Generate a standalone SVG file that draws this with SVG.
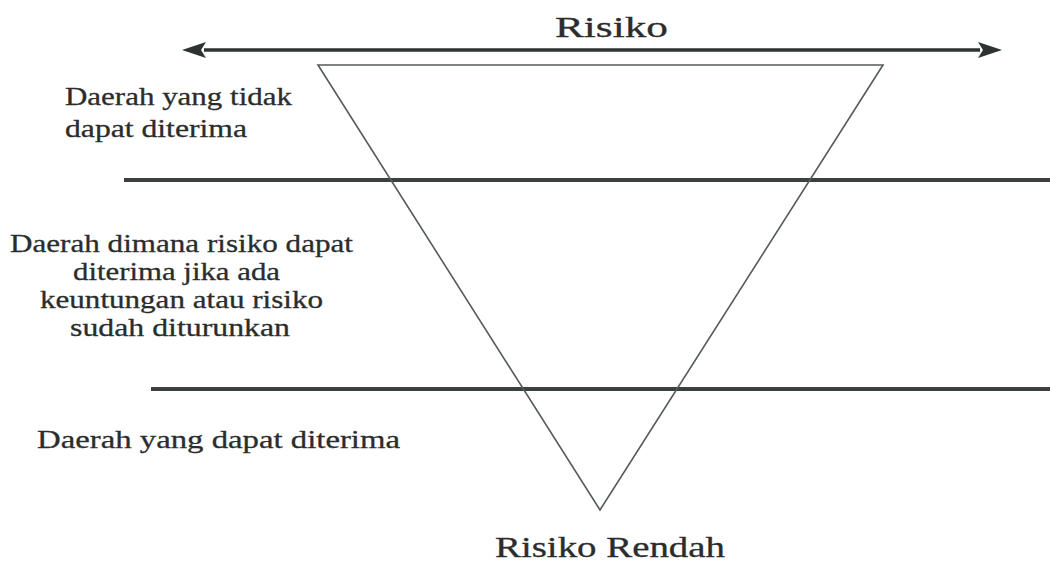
<svg xmlns="http://www.w3.org/2000/svg" width="1050" height="567" viewBox="0 0 1050 567">
<style>
.t{font-family:"Liberation Serif","Times New Roman",serif;fill:#2b2d2d;stroke:#2b2d2d;stroke-width:0.3;}
.m{font-size:26px;}
.b{font-size:29px;}
.band{stroke:#3b4040;stroke-width:4;fill:none;}
</style>
<defs>
<marker id="ah" viewBox="0 0 24 16" refX="2" refY="8" markerWidth="24" markerHeight="16" markerUnits="userSpaceOnUse" orient="auto-start-reverse">
<path d="M0,0 L24,8 L0,16 L5,8 Z" fill="#2e3232"/>
</marker>
</defs>
<rect width="1050" height="567" fill="#ffffff"/>
<g id="connectors">
<line x1="204" y1="50" x2="980" y2="50" stroke="#2e3232" stroke-width="3.5" marker-start="url(#ah)" marker-end="url(#ah)"/>
<line class="band" x1="124" y1="180" x2="1050" y2="180"/>
<line class="band" x1="151" y1="389" x2="1050" y2="389"/>
</g>
<g id="triangle">
<polygon points="318,65 883,65 600,510" fill="none" stroke="#555a5a" stroke-width="1.6"/>
</g>
<g id="top-label">
<text class="t b" x="555" y="37" textLength="113" lengthAdjust="spacingAndGlyphs">Risiko</text>
</g>
<g id="zone-unacceptable">
<text class="t m" x="65" y="105" textLength="227" lengthAdjust="spacingAndGlyphs">Daerah yang tidak</text>
<text class="t m" x="65" y="137" textLength="182" lengthAdjust="spacingAndGlyphs">dapat diterima</text>
</g>
<g id="zone-alarp">
<text class="t m" x="10" y="252" textLength="343" lengthAdjust="spacingAndGlyphs">Daerah dimana risiko dapat</text>
<text class="t m" x="73" y="280" textLength="207" lengthAdjust="spacingAndGlyphs">diterima jika ada</text>
<text class="t m" x="40" y="308" textLength="283" lengthAdjust="spacingAndGlyphs">keuntungan atau risiko</text>
<text class="t m" x="70" y="336" textLength="220" lengthAdjust="spacingAndGlyphs">sudah diturunkan</text>
</g>
<g id="zone-acceptable">
<text class="t m" x="37" y="448" textLength="363" lengthAdjust="spacingAndGlyphs">Daerah yang dapat diterima</text>
</g>
<g id="bottom-label">
<text class="t b" x="495" y="557" textLength="230" lengthAdjust="spacingAndGlyphs">Risiko Rendah</text>
</g>
</svg>
